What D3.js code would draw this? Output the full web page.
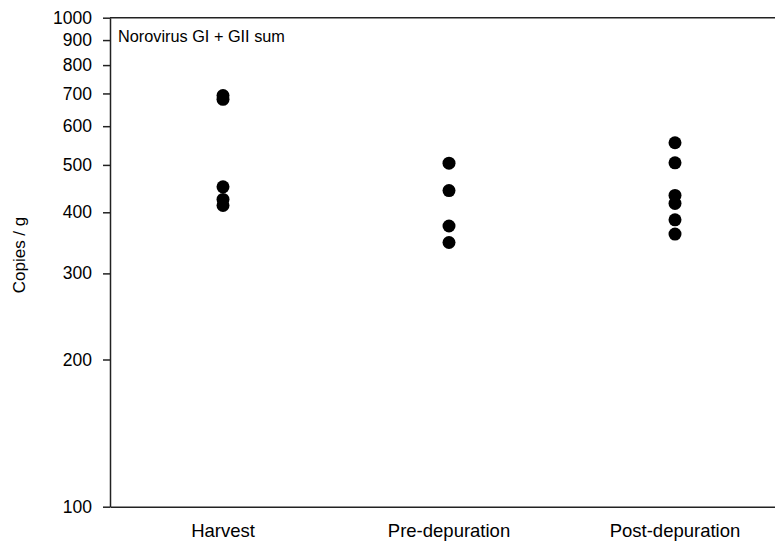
<!DOCTYPE html>
<html>
<head>
<meta charset="utf-8">
<script src="https://cdn.jsdelivr.net/npm/d3@7"></script>
<style>
  html, body { margin: 0; padding: 0; background: #fff; }
  svg text { font-family: "Liberation Sans", Arial, sans-serif; fill: #000; }
</style>
</head>
<body>
<svg id="chart" width="775" height="543"></svg>
<script>
const categories = ["Harvest", "Pre-depuration", "Post-depuration"];
const harvestValues = [693, 681, 451, 425, 413];
const preDepurationValues = [504, 443, 375, 347];
const postDepurationValues = [555, 505, 433, 417, 386, 361];
const yTickValues = [100, 200, 300, 400, 500, 600, 700, 800, 900, 1000];
const chartTitle = "Norovirus GI + GII sum";
const yAxisTitle = "Copies / g";

(function () {
const seriesValues = [harvestValues, preDepurationValues, postDepurationValues];
const points = [];
categories.forEach((c, i) => seriesValues[i].forEach(v => points.push({cat: c, value: v})));

const svg = d3.select("#chart");
const mLeft = 110, mTop = 17.7, mBottom = 506.7, mRight = 788;

const x = d3.scaleBand().domain(categories).range([mLeft, mRight]);
const y = d3.scaleLog().domain([100, 1000]).range([mBottom, mTop]);

// Y axis
const yAxis = d3.axisLeft(y).tickValues(yTickValues).tickFormat(d3.format("d"))
  .tickSizeInner(7).tickSizeOuter(0).tickPadding(11);
const gy = svg.append("g").attr("transform", `translate(${mLeft},0)`).call(yAxis);
gy.select(".domain").attr("stroke", "#222").attr("stroke-width", 1.5);
gy.selectAll(".tick line").attr("stroke", "#222").attr("stroke-width", 1.5);
gy.selectAll(".tick text").style("font-size", "17.5px").attr("fill", "#000");

// X axis
const xAxis = d3.axisBottom(x).tickSize(0).tickPadding(17);
const gx = svg.append("g").attr("transform", `translate(0,${mBottom})`).call(xAxis);
gx.select(".domain").attr("stroke", "#222").attr("stroke-width", 1.5);
gx.selectAll(".tick text").style("font-size", "18.5px").attr("fill", "#000");

// Top frame line
svg.append("line")
  .attr("x1", mLeft).attr("x2", mRight).attr("y1", mTop).attr("y2", mTop)
  .attr("stroke", "#222").attr("stroke-width", 1.5);

// Points
svg.append("g").selectAll("circle").data(points).join("circle")
  .attr("cx", d => x(d.cat) + x.bandwidth() / 2)
  .attr("cy", d => y(d.value))
  .attr("r", 6.5)
  .attr("fill", "#000");

// Chart title
svg.append("text").attr("x", 118).attr("y", 41.7)
  .style("font-size", "16.3px").text(chartTitle);

// Y title
svg.append("text")
  .attr("transform", "translate(25,255) rotate(-90)")
  .attr("text-anchor", "middle")
  .style("font-size", "17px")
  .text(yAxisTitle);
})();
</script>
</body>
</html>
